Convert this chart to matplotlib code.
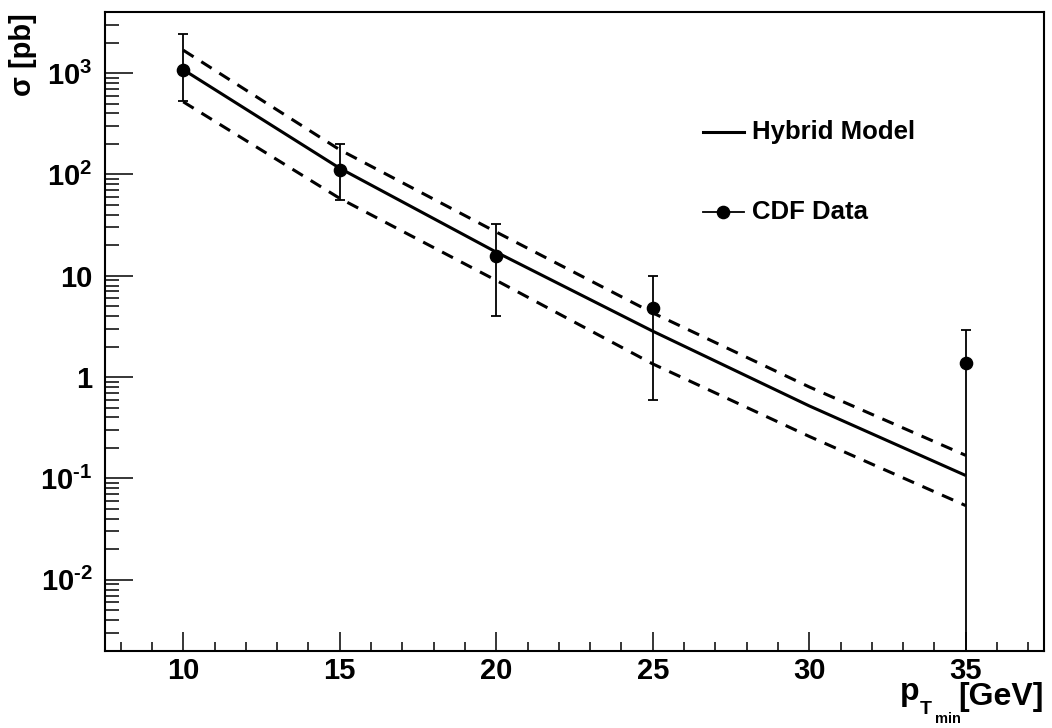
import matplotlib
matplotlib.use("Agg")
import matplotlib.pyplot as plt
from matplotlib.ticker import FixedLocator, FixedFormatter, MultipleLocator, LogLocator, NullFormatter

plt.rcParams['font.family'] = ['Liberation Sans', 'DejaVu Sans']
plt.rcParams['font.weight'] = 'bold'
plt.rcParams['mathtext.fontset'] = 'custom'
plt.rcParams['mathtext.rm'] = 'Liberation Sans:bold'
plt.rcParams['mathtext.it'] = 'Liberation Sans:bold'
plt.rcParams['mathtext.bf'] = 'Liberation Sans:bold'
plt.rcParams['mathtext.sf'] = 'Liberation Sans:bold'

# CDF data
pt_data = [10, 15, 20, 25, 35]
sigma_data = [1083, 111, 15.6, 4.8, 1.37]
sigma_hi = [2400, 201, 32.7, 9.86, 2.89]
sigma_lo = [531, 55.5, 4.04, 0.598, 1e-4]

# Hybrid model curves
pt_model = [10, 15, 20, 25, 30, 35]
model_central = [1080, 115, 17.1, 2.84, 0.52, 0.107]
model_upper = [1680, 175, 27.0, 4.3, 0.80, 0.169]
model_lower = [520, 58, 9.0, 1.35, 0.26, 0.054]

y_ticks = [1e-2, 1e-1, 1, 10, 1e2, 1e3]
y_ticklabels = ['$10^{\u2010 2}$', '$10^{\u2010 1}$', '1', '10', '$10^{2}$', '$10^{3}$']
x_ticks = [10, 15, 20, 25, 30, 35]

W, H = 1052, 728
fig = plt.figure(figsize=(W / 100, H / 100), dpi=100)
ax = fig.add_axes([0.0998, 0.1062, 0.8926, 0.8773])
ax.set_yscale('log')
ax.set_xlim(7.5, 37.5)
ax.set_ylim(2e-3, 4e3)

ax.plot(pt_model, model_central, color='black', lw=2.2, solid_capstyle='butt')
ax.plot(pt_model, model_upper, color='black', lw=2.2, dashes=(4, 3))
ax.plot(pt_model, model_lower, color='black', lw=2.2, dashes=(4, 3))

yerr = [[c - l for c, l in zip(sigma_data, sigma_lo)],
        [h - c for c, h in zip(sigma_data, sigma_hi)]]
ax.errorbar(pt_data, sigma_data, yerr=yerr, fmt='o', color='black',
            ms=8.8, elinewidth=1.3, capsize=3.5, capthick=1.3)

# legend drawn manually in axes coordinates
ax.plot([0.637, 0.680], [0.812, 0.812], transform=ax.transAxes, color='black', lw=2.2)
ax.text(0.689, 0.812, 'Hybrid Model', transform=ax.transAxes, fontsize=18.5,
        fontweight='bold', va='center', ha='left')
ax.plot([0.637, 0.680], [0.687, 0.687], transform=ax.transAxes, color='black', lw=1.3)
ax.plot([0.6585], [0.687], 'o', transform=ax.transAxes, color='black', ms=8.8)
ax.text(0.689, 0.687, 'CDF Data', transform=ax.transAxes, fontsize=18.5,
        fontweight='bold', va='center', ha='left')

ax.yaxis.set_major_locator(FixedLocator(y_ticks))
ax.yaxis.set_major_formatter(FixedFormatter(y_ticklabels))
ax.yaxis.set_minor_locator(LogLocator(base=10, subs=range(2, 10), numticks=20))
ax.yaxis.set_minor_formatter(NullFormatter())
ax.xaxis.set_major_locator(FixedLocator(x_ticks))
ax.xaxis.set_minor_locator(MultipleLocator(1))

ax.tick_params(axis='y', which='major', direction='in', length=20, width=1.1,
               labelsize=21, pad=9, right=False)
ax.tick_params(axis='y', which='minor', direction='in', length=10, width=1.1, right=False)
ax.tick_params(axis='x', which='major', direction='in', length=13.7, width=1.1,
               labelsize=21, pad=4.5, top=False)
ax.tick_params(axis='x', which='minor', direction='in', length=6.8, width=1.1, top=False)
for lab in ax.get_xticklabels() + ax.get_yticklabels():
    lab.set_fontweight('bold')
for sp in ax.spines.values():
    sp.set_linewidth(1.5)

# x-axis title built as p, T, min, [GeV]
def px(x, y):
    return x / W, 1 - y / H

fig.text(*px(1044, 705), '[GeV]', ha='right', va='baseline', fontsize=23, fontweight='bold')
fig.text(*px(900, 700), 'p', ha='left', va='baseline', fontsize=23, fontweight='bold')
fig.text(*px(920, 714), 'T', ha='left', va='baseline', fontsize=14, fontweight='bold')
fig.text(*px(935, 723), 'min', ha='left', va='baseline', fontsize=10.5, fontweight='bold')

fig.text(0.0215, 0.982, 'σ [pb]', ha='center', va='top', rotation=90,
         fontsize=21, fontweight='bold')

fig.savefig('out.png', dpi=100)
